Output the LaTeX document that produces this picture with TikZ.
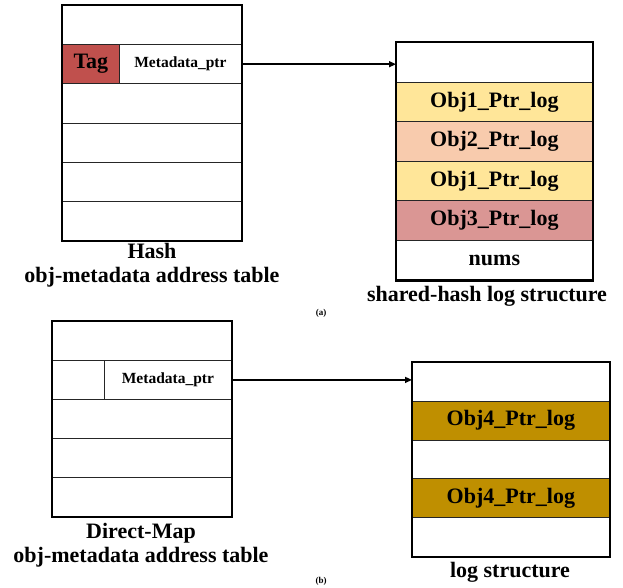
\documentclass[tikz,border=0pt]{standalone}
\usepackage{fontspec}
\setmainfont{Liberation Serif}
\usepackage{xcolor}
\usetikzlibrary{arrows.meta,positioning}
\definecolor{tagred}{HTML}{C0504D}
\definecolor{objone}{HTML}{FFE699}
\definecolor{objtwo}{HTML}{F8CBAD}
\definecolor{objthree}{HTML}{DA9694}
\definecolor{objfour}{HTML}{BF8F00}
\tikzset{
  cell/.style={rectangle, draw=black!85, line width=0.8pt, fill=#1, anchor=north west,
               inner sep=0pt, font=\bfseries\fontsize{22}{24}\selectfont},
  cell/.default={white},
  frame/.style={line width=2.6pt, black},
  arr/.style={-{Triangle[length=7pt,width=6pt]}, line width=1.4pt, black},
  lbl/.style={align=center, font=\bfseries\fontsize{22}{24}\selectfont, inner sep=0pt},
  tag/.style={font=\bfseries\fontsize{9}{10}\selectfont, inner sep=0pt},
}
\begin{document}
\begin{tikzpicture}[x=1pt, y=-1pt]
\useasboundingbox (0,0) rectangle (623,588);
% (a) hash table
\foreach \i in {0,2,3,4,5} {
  \node[cell, minimum width=179pt, minimum height=39.2pt] (h\i) at (62,{5+39.2*\i}) {};
}
\node[cell=tagred, minimum width=57pt, minimum height=39.2pt] (htag) at (62,44.2) {Tag};
\node[cell, minimum width=122pt, minimum height=39.2pt,
      font=\bfseries\fontsize{15.5}{17}\selectfont] (hptr) at (119,44.2) {Metadata\_ptr};
\draw[frame] (h0.north west) rectangle (h5.south east);
\node[lbl] (hashlbl) at (152,265) {Hash\\obj-metadata address table};
% (a) shared-hash log
\foreach \i/\txt/\col in {0//white, 1/Obj1\_Ptr\_log/objone, 2/Obj2\_Ptr\_log/objtwo,
                          3/Obj1\_Ptr\_log/objone, 4/Obj3\_Ptr\_log/objthree, 5/nums/white} {
  \node[cell=\col, minimum width=196pt, minimum height=39.6pt] (s\i) at (396,{42+39.6*\i}) {\txt};
}
\draw[frame] (s0.north west) rectangle (s5.south east);
\node[lbl] (sharedlbl) at (487,296) {shared-hash log structure};
\draw[arr] (hptr.east) -- (hptr.east -| s0.west);
\node[tag] (capa) at (321,313) {(a)};
% (b) direct-map table
\foreach \i in {0,2,3,4} {
  \node[cell, minimum width=179pt, minimum height=39pt] (d\i) at (52,{321+39*\i}) {};
}
\node[cell, minimum width=52pt, minimum height=39pt] (dtag) at (52,360) {};
\node[cell, minimum width=127pt, minimum height=39pt,
      font=\bfseries\fontsize{15.5}{17}\selectfont] (dptr) at (104,360) {Metadata\_ptr};
\draw[frame] (d0.north west) rectangle (d4.south east);
\node[lbl] (directlbl) at (141,545.5) {Direct-Map\\obj-metadata address table};
% (b) log
\foreach \i/\txt/\col in {0//white, 1/Obj4\_Ptr\_log/objfour, 2//white,
                          3/Obj4\_Ptr\_log/objfour, 4//white} {
  \node[cell=\col, minimum width=197pt, minimum height=38.8pt] (g\i) at (412,{362+38.8*\i}) {\txt};
}
\draw[frame] (g0.north west) rectangle (g4.south east);
\node[lbl] (loglbl) at (510,572) {log structure};
\draw[arr] (dptr.east) -- (dptr.east -| g0.west);
\node[tag] (capb) at (321,581) {(b)};
\end{tikzpicture}
\end{document}
